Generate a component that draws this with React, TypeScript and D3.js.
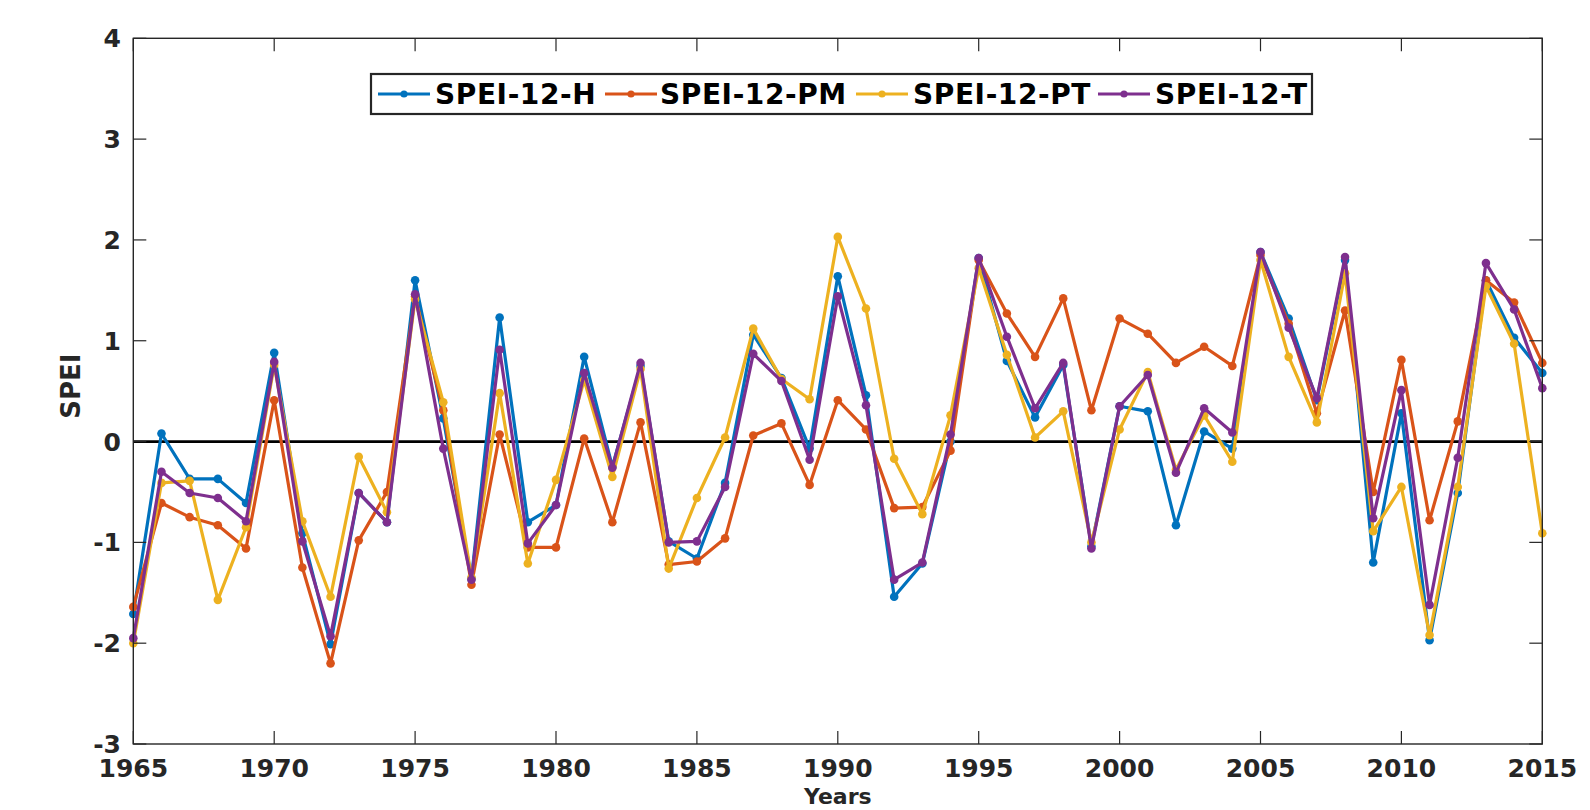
import * as d3 from "d3";

// SPEI values 1965-2015
const years = d3.range(1965, 2016);

const speiH = [
  -1.71, 0.08, -0.37, -0.37, -0.61, 0.88, -0.91, -2.01, -0.51, -0.8,
  1.6, 0.23, -1.36, 1.23, -0.8, -0.63, 0.84, -0.25, 0.75, -0.99,
  -1.16, -0.41, 1.06, 0.63, -0.07, 1.64, 0.46, -1.54, -1.21, 0.0,
  1.82, 0.8, 0.24, 0.76, -1.04, 0.35, 0.3, -0.83, 0.1, -0.07,
  1.88, 1.22, 0.41, 1.8, -1.2, 0.28, -1.97, -0.51, 1.6, 1.03, 0.68,
];
const speiPM = [
  -1.64, -0.61, -0.75, -0.83, -1.06, 0.41, -1.25, -2.2, -0.98, -0.5,
  1.44, 0.31, -1.42, 0.07, -1.05, -1.05, 0.03, -0.8, 0.19, -1.22,
  -1.19, -0.96, 0.06, 0.18, -0.43, 0.41, 0.12, -0.66, -0.65, -0.09,
  1.8, 1.27, 0.84, 1.42, 0.31, 1.22, 1.07, 0.78, 0.94, 0.75,
  1.85, 1.17, 0.28, 1.3, -0.5, 0.81, -0.78, 0.2, 1.6, 1.38, 0.78,
];
const speiPT = [
  -2.0, -0.41, -0.39, -1.57, -0.85, 0.76, -0.79, -1.54, -0.15, -0.7,
  1.41, 0.39, -1.35, 0.48, -1.21, -0.38, 0.61, -0.35, 0.72, -1.26,
  -0.56, 0.04, 1.12, 0.62, 0.42, 2.03, 1.32, -0.17, -0.72, 0.26,
  1.72, 0.86, 0.04, 0.3, -1.0, 0.12, 0.69, -0.28, 0.26, -0.2,
  1.8, 0.84, 0.19, 1.67, -0.89, -0.45, -1.92, -0.45, 1.54, 0.97, -0.91,
];
const speiT = [
  -1.95, -0.3, -0.51, -0.56, -0.79, 0.79, -0.99, -1.93, -0.51, -0.8,
  1.46, -0.07, -1.37, 0.91, -1.01, -0.63, 0.68, -0.26, 0.78, -1.0,
  -0.99, -0.45, 0.87, 0.6, -0.18, 1.44, 0.36, -1.37, -1.2, 0.07,
  1.82, 1.04, 0.33, 0.78, -1.06, 0.35, 0.66, -0.31, 0.33, 0.09,
  1.88, 1.13, 0.43, 1.83, -0.76, 0.51, -1.62, -0.16, 1.77, 1.31, 0.53,
];

const seriesNames = ["SPEI-12-H", "SPEI-12-PM", "SPEI-12-PT", "SPEI-12-T"];
const seriesValues = [speiH, speiPM, speiPT, speiT];
const colors = ["#0072BD", "#D95319", "#EDB120", "#7E2F8E"];

const xTicks = d3.range(1965, 2016, 5);
const yTicks = d3.range(-3, 5, 1);

export default function App() {
  const width = 1590,
    height = 810;
  const left = 133.3,
    right = 1542.3,
    top = 38.3,
    bottom = 744;
  const axisColor = "#262626";
  const font = "'DejaVu Sans', sans-serif";

  const x = d3.scaleLinear().domain([1965, 2015]).range([left, right]);
  const y = d3.scaleLinear().domain([-3, 4]).range([bottom, top]);
  const line = d3
    .line<number>()
    .x((_, i) => x(years[i]))
    .y((d) => y(d));

  const legendX = 371,
    legendY = 74,
    legendH = 40;
  const legendItems = [
    { x: 378, tx: 435 },
    { x: 605, tx: 660 },
    { x: 856, tx: 913 },
    { x: 1098, tx: 1155 },
  ];

  return (
    <svg
      width={width}
      height={height}
      style={{ position: "absolute", left: 0, top: 0, display: "block", background: "#fff" }}
      fontFamily={font}
    >
      {/* zero line */}
      <line x1={left} x2={right} y1={y(0)} y2={y(0)} stroke="#000" strokeWidth={2.8} />

      {/* series */}
      {seriesValues.map((vals, s) => (
        <g key={seriesNames[s]}>
          <path d={line(vals) ?? ""} fill="none" stroke={colors[s]} strokeWidth={3.2} strokeLinejoin="round" />
          {vals.map((v, i) => (
            <circle key={i} cx={x(years[i])} cy={y(v)} r={4.3} fill={colors[s]} />
          ))}
        </g>
      ))}

      {/* axes box */}
      <rect x={left} y={top} width={right - left} height={bottom - top} fill="none" stroke={axisColor} strokeWidth={1.4} />

      {/* x ticks (inward, mirrored) */}
      {xTicks.map((t) => (
        <g key={"x" + t}>
          <line x1={x(t)} x2={x(t)} y1={bottom} y2={bottom - 13} stroke={axisColor} strokeWidth={1.2} />
          <line x1={x(t)} x2={x(t)} y1={top} y2={top + 13} stroke={axisColor} strokeWidth={1.2} />
          <text x={x(t)} y={777} textAnchor="middle" fontSize={25} fontWeight="bold" fill={axisColor}>
            {t}
          </text>
        </g>
      ))}

      {/* y ticks */}
      {yTicks.map((t) => (
        <g key={"y" + t}>
          <line x1={left} x2={left + 13} y1={y(t)} y2={y(t)} stroke={axisColor} strokeWidth={1.2} />
          <line x1={right} x2={right - 13} y1={y(t)} y2={y(t)} stroke={axisColor} strokeWidth={1.2} />
          <text x={121} y={y(t)} dy="0.36em" textAnchor="end" fontSize={25} fontWeight="bold" fill={axisColor}>
            {t}
          </text>
        </g>
      ))}

      {/* axis labels */}
      <text
        transform={`translate(80,${y(0.55)}) rotate(-90)`}
        textAnchor="middle"
        fontSize={26}
        fontWeight="bold"
        fill={axisColor}
      >
        SPEI
      </text>
      <text x={(left + right) / 2} y={804} textAnchor="middle" fontSize={22} fontWeight="bold" fill={axisColor}>
        Years
      </text>

      {/* legend */}
      <rect x={legendX} y={legendY} width={1312 - legendX} height={legendH} fill="#fff" stroke={axisColor} strokeWidth={2.2} />
      {seriesNames.map((name, s) => (
        <g key={"lg" + name}>
          <line
            x1={legendItems[s].x}
            x2={legendItems[s].x + 52}
            y1={legendY + legendH / 2}
            y2={legendY + legendH / 2}
            stroke={colors[s]}
            strokeWidth={3}
          />
          <circle cx={legendItems[s].x + 26} cy={legendY + legendH / 2} r={3.6} fill={colors[s]} />
          <text
            x={legendItems[s].tx}
            y={legendY + legendH / 2}
            dy="0.36em"
            fontSize={28}
            letterSpacing={0.6}
            fontWeight="bold"
            fill="#000"
          >
            {name}
          </text>
        </g>
      ))}
    </svg>
  );
}
